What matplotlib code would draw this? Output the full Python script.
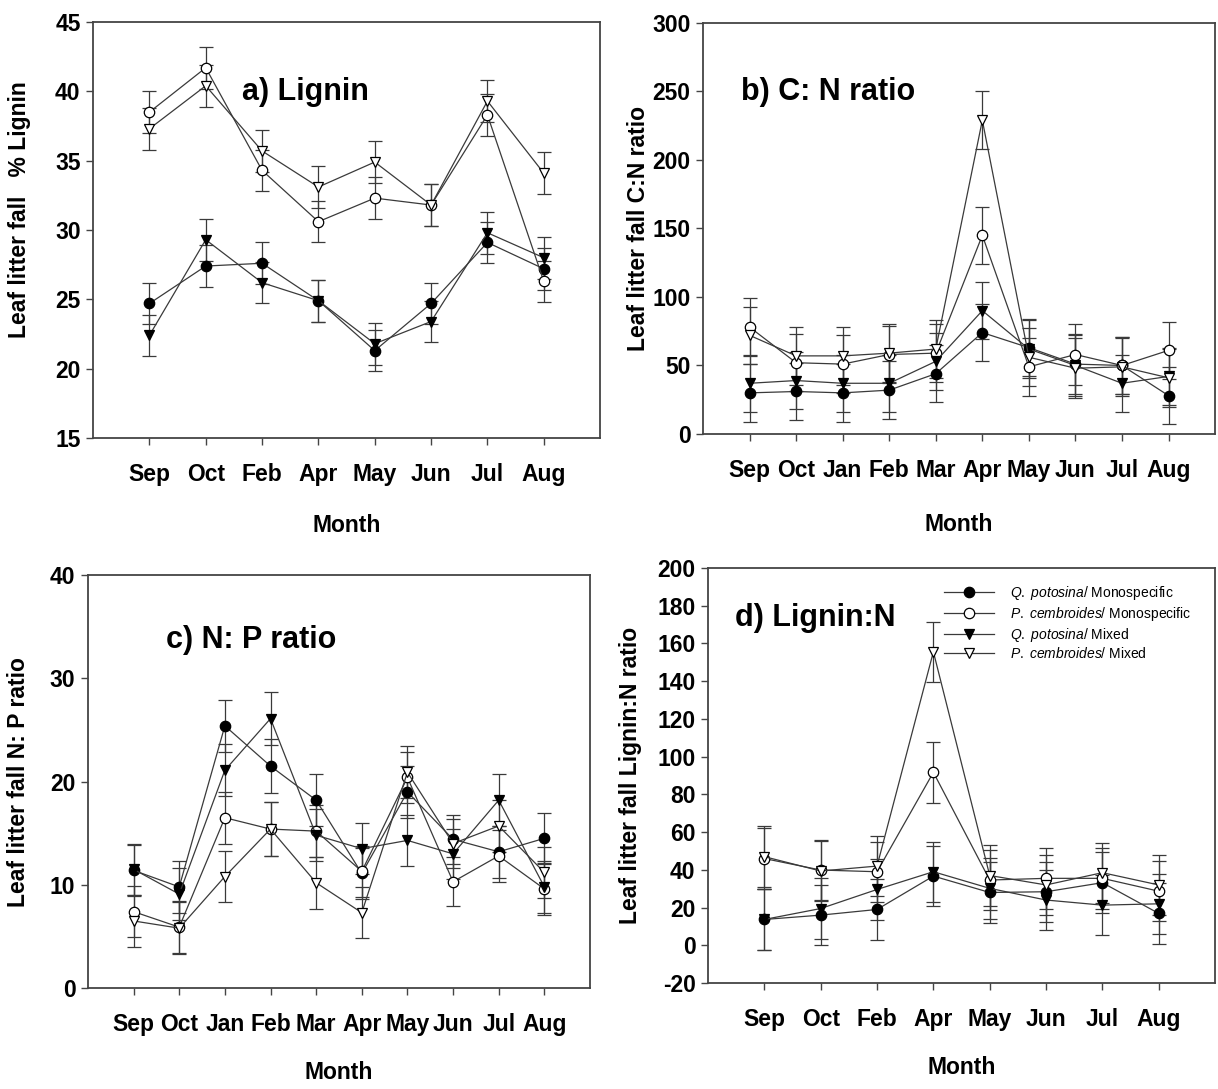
import matplotlib
matplotlib.use("Agg")
import matplotlib.pyplot as plt

plt.rcParams['font.family'] = ['Liberation Sans', 'DejaVu Sans']
plt.rcParams['mathtext.fontset'] = 'custom'
plt.rcParams['mathtext.it'] = 'Liberation Sans:italic'
plt.rcParams['mathtext.rm'] = 'Liberation Sans'
plt.rcParams['axes.unicode_minus'] = False

# a) Lignin (%)
months_a = ["Sep", "Oct", "Feb", "Apr", "May", "Jun", "Jul", "Aug"]
lig_qpot_mono = [24.7, 27.4, 27.6, 24.9, 21.3, 24.7, 29.1, 27.2]
lig_pcem_mono = [38.5, 41.7, 34.3, 30.6, 32.3, 31.8, 38.3, 26.3]
lig_qpot_mix = [22.4, 29.3, 26.2, 24.9, 21.8, 23.4, 29.8, 28.0]
lig_pcem_mix = [37.3, 40.4, 35.7, 33.1, 34.9, 31.8, 39.3, 34.1]
lig_se = [1.5, 1.5, 1.5, 1.5, 1.5, 1.5, 1.5, 1.5]

# b) C:N ratio
months_b = ["Sep", "Oct", "Jan", "Feb", "Mar", "Apr", "May", "Jun", "Jul", "Aug"]
cn_qpot_mono = [30, 31, 30, 32, 44, 74, 63, 51, 50, 28]
cn_pcem_mono = [78, 52, 51, 58, 59, 145, 49, 58, 50, 61]
cn_qpot_mix = [37, 39, 37, 37, 53, 90, 62, 50, 37, 42]
cn_pcem_mix = [72, 57, 57, 59, 62, 229, 56, 48, 49, 41]
cn_se = [21, 21, 21, 21, 21, 21, 21, 22, 21, 21]

# c) N:P ratio
months_c = ["Sep", "Oct", "Jan", "Feb", "Mar", "Apr", "May", "Jun", "Jul", "Aug"]
np_qpot_mono = [11.4, 9.8, 25.4, 21.5, 18.2, 11.1, 19.0, 14.4, 13.2, 14.5]
np_pcem_mono = [7.4, 5.9, 16.5, 15.4, 15.2, 11.3, 20.4, 10.3, 12.8, 9.6]
np_qpot_mix = [11.5, 9.1, 21.1, 26.1, 14.8, 13.5, 14.3, 13.0, 18.2, 9.8]
np_pcem_mix = [6.5, 5.8, 10.8, 15.4, 10.2, 7.3, 20.9, 14.0, 15.7, 11.2]
np_se = [2.5, 2.5, 2.5, 2.6, 2.5, 2.5, 2.5, 2.4, 2.5, 2.5]

# d) Lignin:N ratio
months_d = ["Sep", "Oct", "Feb", "Apr", "May", "Jun", "Jul", "Aug"]
ln_qpot_mono = [13.7, 16.0, 19.0, 36.7, 28.0, 28.4, 33.2, 16.9]
ln_pcem_mono = [46.0, 39.9, 39.0, 91.7, 34.6, 35.5, 35.5, 28.7]
ln_qpot_mix = [13.7, 19.5, 29.6, 39.0, 30.2, 24.0, 21.3, 22.0]
ln_pcem_mix = [47.0, 39.4, 42.0, 155.6, 37.0, 32.0, 38.5, 32.0]
ln_se = [16, 16, 16, 16, 16, 16, 16, 16]

names = [r"$\it{Q.\ potosina}$/ Monospecific",
         r"$\it{P.\ cembroides}$/ Monospecific",
         r"$\it{Q.\ potosina}$/ Mixed",
         r"$\it{P.\ cembroides}$/ Mixed"]
markers = ["o", "o", "v", "v"]
faces = ["black", "white", "black", "white"]

LINE = "#3a3a3a"


def panel(ax, months, series, se, ylim, yticks, ylabel, ylab_xy, tag, tag_xy):
    x = list(range(1, len(months) + 1))
    for vals, m, fc, name in zip(series, markers, faces, names):
        ax.errorbar(x, vals, yerr=se, fmt="none", ecolor=LINE,
                    elinewidth=0.9, capsize=5, capthick=0.9, zorder=2)
        ax.plot(x, vals, color=LINE, lw=0.9, marker=m, ms=7.5,
                mfc=fc, mec="black", mew=0.9, label=name, zorder=3)
    ax.set_xlim(0, len(months) + 1)
    ax.set_ylim(*ylim)
    ax.set_yticks(yticks)
    ax.set_xticks(x)
    ax.set_xticklabels(months)
    ax.tick_params(direction="out", length=5, width=1, color="#444444",
                   labelsize=16.5)
    ax.tick_params(axis="x", pad=13)
    ax.tick_params(axis="y", pad=4)
    for lab in ax.get_xticklabels() + ax.get_yticklabels():
        lab.set_fontweight("bold")
    for s in ax.spines.values():
        s.set_color("#444444")
        s.set_linewidth(1.3)
    ax.set_ylabel(ylabel, fontsize=16.5, fontweight="bold")
    # label is anchored by its right-hand edge
    ax.yaxis.set_label_coords(*ylab_xy)
    ax.set_xlabel("Month", fontsize=16.5, fontweight="bold")
    ax.text(tag_xy[0], tag_xy[1], tag, transform=ax.transAxes,
            fontsize=22, fontweight="bold", va="center", ha="left")


fig = plt.figure(figsize=(12.18, 10.89), dpi=100)
ax_a = fig.add_axes([0.0764, 0.5978, 0.4163, 0.3820])
ax_b = fig.add_axes([0.5772, 0.6015, 0.4204, 0.3774])
ax_c = fig.add_axes([0.0722, 0.0927, 0.4122, 0.3792])
ax_d = fig.add_axes([0.5813, 0.0973, 0.4163, 0.3811])

panel(ax_a, months_a, [lig_qpot_mono, lig_pcem_mono, lig_qpot_mix, lig_pcem_mix],
      lig_se, (15, 45), range(15, 46, 5), "Leaf litter fall   % Lignin", (-0.122, 0.55),
      "a) Lignin", (0.294, 0.832))
panel(ax_b, months_b, [cn_qpot_mono, cn_pcem_mono, cn_qpot_mix, cn_pcem_mix],
      cn_se, (0, 300), range(0, 301, 50), "Leaf litter fall C:N ratio", (-0.103, 0.5),
      "b) C: N ratio", (0.075, 0.832))
panel(ax_c, months_c, [np_qpot_mono, np_pcem_mono, np_qpot_mix, np_pcem_mix],
      np_se, (0, 40), range(0, 41, 10), "Leaf litter fall N: P ratio", (-0.115, 0.5),
      "c) N: P ratio", (0.155, 0.843))
panel(ax_d, months_d, [ln_qpot_mono, ln_pcem_mono, ln_qpot_mix, ln_pcem_mix],
      ln_se, (-20, 200), range(-20, 201, 20), "Leaf litter fall Lignin:N ratio", (-0.13, 0.5),
      "d) Lignin:N", (0.053, 0.879))

ax_a.xaxis.labelpad = 20
ax_b.xaxis.labelpad = 22
ax_c.xaxis.labelpad = 18
ax_d.xaxis.labelpad = 18

ax_d.legend(loc="upper left", bbox_to_anchor=(0.455, 0.975), frameon=False,
            fontsize=10, handlelength=3.6, handletextpad=1.1,
            labelspacing=0.2, borderaxespad=0)

fig.savefig("out.png", dpi=100)
